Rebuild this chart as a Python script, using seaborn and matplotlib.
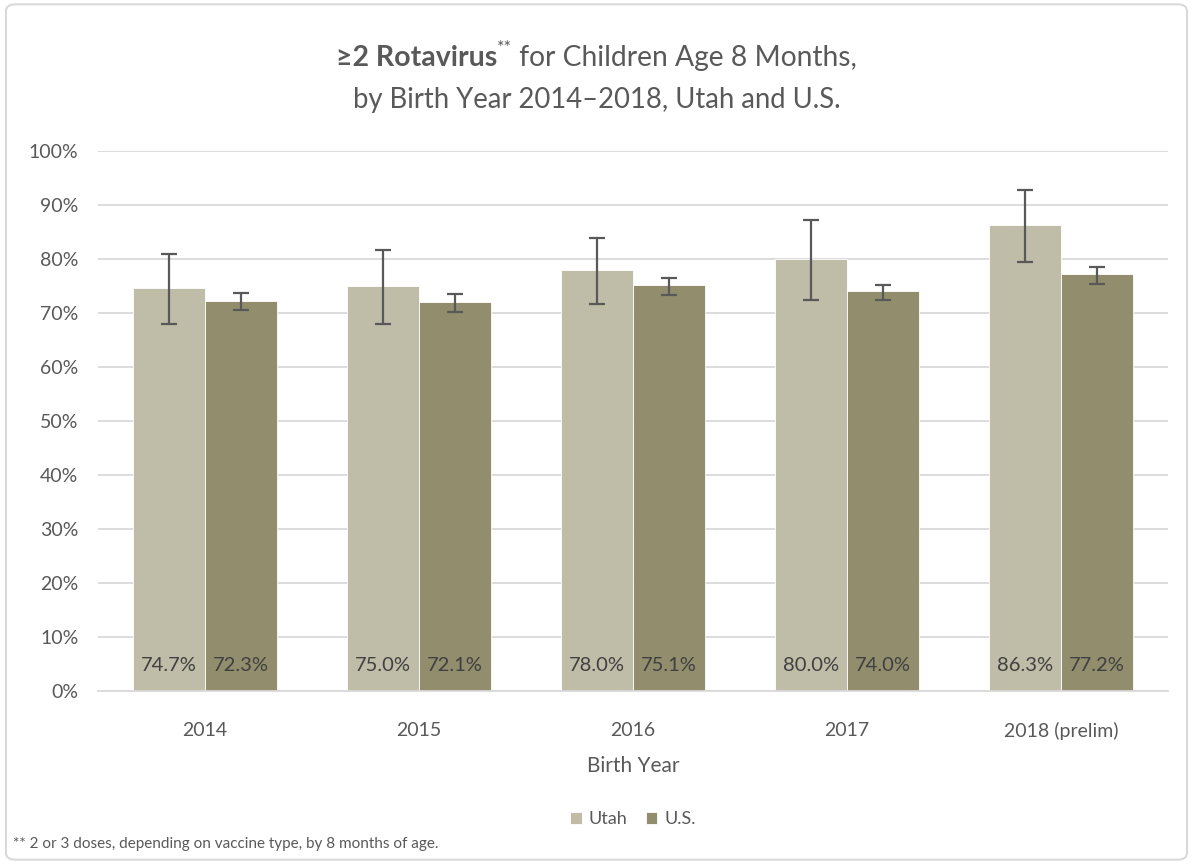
import numpy as np
import pandas as pd
import matplotlib
matplotlib.use('Agg')
import matplotlib.pyplot as plt
import seaborn as sns
from matplotlib.patches import FancyBboxPatch
from matplotlib.ticker import PercentFormatter

# chart data
years = ['2014', '2015', '2016', '2017', '2018 (prelim)']
utah = [74.7, 75.0, 78.0, 80.0, 86.3]
us = [72.3, 72.1, 75.1, 74.0, 77.2]
# confidence intervals
utah_low = [68.0, 67.9, 71.7, 72.4, 79.5]
utah_high = [81.0, 81.7, 83.9, 87.3, 92.7]
us_low = [70.6, 70.2, 73.4, 72.4, 75.4]
us_high = [73.7, 73.6, 76.5, 75.2, 78.6]

df = pd.DataFrame({
    'year': years * 2,
    'area': ['Utah'] * len(years) + ['U.S.'] * len(years),
    'pct': utah + us,
    'low': utah_low + us_low,
    'high': utah_high + us_high,
})

sns.set_style('white')
plt.rcParams['font.family'] = ['Lato', 'DejaVu Sans']
txt_color = '#595959'

fig = plt.figure(figsize=(11.93, 8.64), dpi=100)
# outer chart border
fig.patches.append(FancyBboxPatch((0.005, 0.005), 0.99, 0.99, boxstyle='round,pad=0,rounding_size=0.008',
                                  transform=fig.transFigure, fill=False, edgecolor='#D9D9D9', linewidth=1.5))
ax = fig.add_axes([0.0821, 0.2002, 0.8969, 0.625])

sns.barplot(data=df, x='year', y='pct', hue='area', order=years, hue_order=['Utah', 'U.S.'],
            palette=['#BFBCA7', '#918D6D'], saturation=1, width=0.67, gap=0, errorbar=None,
            edgecolor='white', linewidth=0.6, ax=ax, zorder=2)

# error bars and labels placed on the bars seaborn drew
for cont, area in zip(ax.containers, ['Utah', 'U.S.']):
    sub = df[df['area'] == area].set_index('year').loc[years]
    xs = [p.get_x() + p.get_width() / 2 for p in cont.patches]
    vals = sub['pct'].values
    err = [vals - sub['low'].values, sub['high'].values - vals]
    ax.errorbar(xs, vals, yerr=err, fmt='none', ecolor='#595959', elinewidth=1.6,
                capsize=6, capthick=1.6, zorder=3)
    for x, v in zip(xs, vals):
        ax.text(x, 4.8, f'{v:.1f}%', ha='center', va='center', fontsize=14.5, color='#404040', zorder=4)

ax.set_xlim(-0.5, len(years) - 0.5)
ax.set_ylim(0, 100)
ax.set_yticks(np.arange(0, 101, 10))
ax.yaxis.set_major_formatter(PercentFormatter(decimals=0))
ax.grid(axis='y', color='#D9D9D9', linewidth=1.3, zorder=0)
ax.set_axisbelow(True)
for s in ['top', 'right', 'left']:
    ax.spines[s].set_visible(False)
ax.spines['bottom'].set_color('#D9D9D9')
ax.spines['bottom'].set_linewidth(1.3)
ax.tick_params(axis='both', length=0, labelsize=14, labelcolor=txt_color)
ax.tick_params(axis='x', pad=22)
ax.tick_params(axis='y', pad=14)
ax.set_xlabel('Birth Year', fontsize=15, color=txt_color, labelpad=12)
ax.set_ylabel('')

leg = ax.legend(loc='center', bbox_to_anchor=(0.5, -0.237), ncol=2, frameon=False,
                fontsize=13, handlelength=0.65, handleheight=0.65, handletextpad=0.4,
                columnspacing=1.0)
for t in leg.get_texts():
    t.set_color(txt_color)

# title, first line built from pieces
renderer = fig.canvas.get_renderer()
y1 = 1 - 58 / 864
parts = [('≥2 Rotavirus', 'bold', 20.5, 0), ('**', 'normal', 13, 0.012),
         (' for Children Age 8 Months,', 'normal', 20.3, 0)]
objs = []
for s, w, fs, dy in parts:
    objs.append(fig.text(0, y1 + dy, s, fontsize=fs, fontweight=w, color=txt_color, va='center'))
widths = [o.get_window_extent(renderer).width / fig.bbox.width for o in objs]
x0 = 0.5 - sum(widths) / 2
for o, w in zip(objs, widths):
    o.set_x(x0)
    x0 += w
fig.text(0.5, 1 - 100 / 864, 'by Birth Year 2014–2018, Utah and U.S.', fontsize=19.8,
         color=txt_color, ha='center', va='center')

fig.text(13 / 1193, 1 - 844 / 864, '** 2 or 3 doses, depending on vaccine type, by 8 months of age.',
         fontsize=11, color=txt_color, va='center')

fig.savefig('out.png', dpi=100)
